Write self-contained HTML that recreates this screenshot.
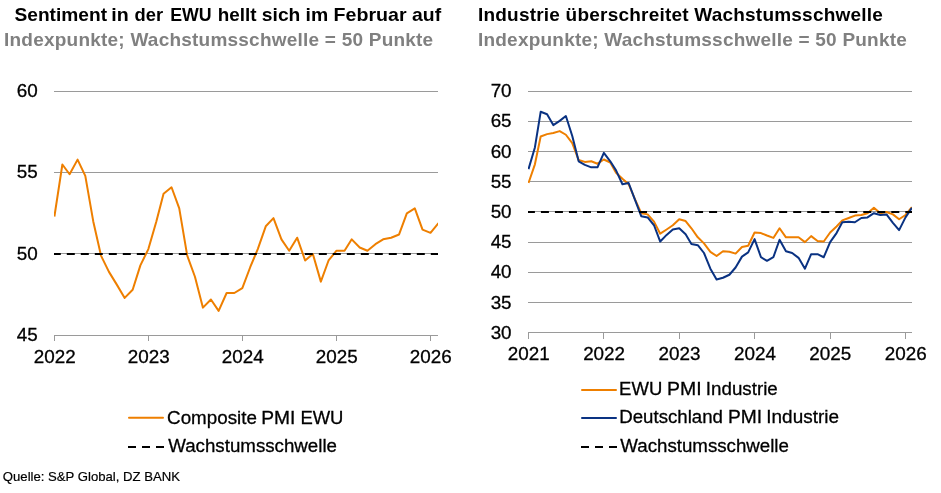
<!DOCTYPE html>
<html lang="de"><head><meta charset="utf-8"><title>PMI</title>
<style>html,body{margin:0;padding:0;background:#fff;overflow:hidden}svg{display:block}text{font-family:"Liberation Sans",sans-serif}</style></head><body>
<svg width="941" height="493" viewBox="0 0 941 493">
<rect width="941" height="493" fill="#fff"/>
<g font-weight="bold" font-size="19">
<text y="21.1" fill="#000"><tspan x="14.50" textLength="92.58" lengthAdjust="spacingAndGlyphs">Sentiment</tspan> <tspan x="111.33" textLength="17.44" lengthAdjust="spacingAndGlyphs">in</tspan> <tspan x="134.49" textLength="28.58" lengthAdjust="spacingAndGlyphs">der</tspan> <tspan x="170.15" textLength="41.42" lengthAdjust="spacingAndGlyphs">EWU</tspan> <tspan x="217.68" textLength="38.79" lengthAdjust="spacingAndGlyphs">hellt</tspan> <tspan x="261.85" textLength="38.56" lengthAdjust="spacingAndGlyphs">sich</tspan> <tspan x="305.54" textLength="22.63" lengthAdjust="spacingAndGlyphs">im</tspan> <tspan x="333.63" textLength="73.02" lengthAdjust="spacingAndGlyphs">Februar</tspan> <tspan x="412.10" textLength="29.05" lengthAdjust="spacingAndGlyphs">auf</tspan></text>
<text x="4.0" y="46.2" textLength="429.2" lengthAdjust="spacing" fill="#808080">Indexpunkte; Wachstumsschwelle = 50 Punkte</text>
<text x="478.0" y="21.1" textLength="404.8" lengthAdjust="spacing" fill="#000">Industrie überschreitet Wachstumsschwelle</text>
<text x="478.0" y="46.2" textLength="428.8" lengthAdjust="spacing" fill="#808080">Indexpunkte; Wachstumsschwelle = 50 Punkte</text>
</g>
<g stroke="#9a9a9a" stroke-width="1" fill="none" shape-rendering="crispEdges">
<line x1="54" x2="438" y1="91.50" y2="91.50"/>
<line x1="54" x2="438" y1="172.50" y2="172.50"/>
<line x1="54" x2="438" y1="253.50" y2="253.50"/>
<line x1="54" x2="438" y1="335.50" y2="335.50"/>
<line x1="54.40" x2="54.40" y1="335.50" y2="341.40"/>
<line x1="148.43" x2="148.43" y1="335.50" y2="341.40"/>
<line x1="242.45" x2="242.45" y1="335.50" y2="341.40"/>
<line x1="336.48" x2="336.48" y1="335.50" y2="341.40"/>
<line x1="430.50" x2="430.50" y1="335.50" y2="341.40"/>
<line x1="528" x2="912" y1="91.50" y2="91.50"/>
<line x1="528" x2="912" y1="121.50" y2="121.50"/>
<line x1="528" x2="912" y1="151.50" y2="151.50"/>
<line x1="528" x2="912" y1="181.50" y2="181.50"/>
<line x1="528" x2="912" y1="211.50" y2="211.50"/>
<line x1="528" x2="912" y1="242.50" y2="242.50"/>
<line x1="528" x2="912" y1="272.50" y2="272.50"/>
<line x1="528" x2="912" y1="302.50" y2="302.50"/>
<line x1="528" x2="912" y1="332.50" y2="332.50"/>
<line x1="528.50" x2="528.50" y1="332.50" y2="338.80"/>
<line x1="603.90" x2="603.90" y1="332.50" y2="338.80"/>
<line x1="679.30" x2="679.30" y1="332.50" y2="338.80"/>
<line x1="754.70" x2="754.70" y1="332.50" y2="338.80"/>
<line x1="830.10" x2="830.10" y1="332.50" y2="338.80"/>
<line x1="905.50" x2="905.50" y1="332.50" y2="338.80"/>
</g>
<g font-size="18.85" fill="#000" stroke="#000" stroke-width="0.3">
<text x="37.7" y="96.90" text-anchor="end">60</text>
<text x="37.7" y="177.90" text-anchor="end">55</text>
<text x="37.7" y="259.90" text-anchor="end">50</text>
<text x="37.7" y="340.90" text-anchor="end">45</text>
<text x="54.70" y="363.4" text-anchor="middle">2022</text>
<text x="148.73" y="363.4" text-anchor="middle">2023</text>
<text x="242.75" y="363.4" text-anchor="middle">2024</text>
<text x="336.78" y="363.4" text-anchor="middle">2025</text>
<text x="430.80" y="363.4" text-anchor="middle">2026</text>
<text x="511.6" y="96.90" text-anchor="end">70</text>
<text x="511.6" y="126.90" text-anchor="end">65</text>
<text x="511.6" y="157.90" text-anchor="end">60</text>
<text x="511.6" y="187.90" text-anchor="end">55</text>
<text x="511.6" y="217.90" text-anchor="end">50</text>
<text x="511.6" y="247.90" text-anchor="end">45</text>
<text x="511.6" y="277.90" text-anchor="end">40</text>
<text x="511.6" y="308.90" text-anchor="end">35</text>
<text x="511.6" y="338.90" text-anchor="end">30</text>
<text x="528.70" y="360.4" text-anchor="middle">2021</text>
<text x="604.10" y="360.4" text-anchor="middle">2022</text>
<text x="679.50" y="360.4" text-anchor="middle">2023</text>
<text x="754.90" y="360.4" text-anchor="middle">2024</text>
<text x="830.30" y="360.4" text-anchor="middle">2025</text>
<text x="905.70" y="360.4" text-anchor="middle">2026</text>
</g>
<defs><clipPath id="cl"><rect x="54" y="80" width="384" height="262"/></clipPath><clipPath id="cr"><rect x="528" y="80" width="384" height="262"/></clipPath></defs>
<g clip-path="url(#cl)">
<polyline fill="none" stroke="#EE7F00" stroke-width="2" stroke-linejoin="round" points="54.40,216.55 62.38,164.50 69.59,174.26 77.57,159.62 85.29,175.89 93.27,221.43 100.99,255.59 108.97,271.86 116.95,284.87 124.68,297.89 132.66,289.75 140.38,265.35 148.36,249.09 156.34,221.43 163.55,193.78 171.53,187.27 179.25,208.42 187.23,255.59 194.95,276.74 202.94,307.65 210.92,299.51 218.64,310.90 226.62,293.01 234.34,293.01 242.32,288.13 250.30,266.98 257.77,249.09 265.75,226.31 273.47,218.18 281.45,239.33 289.17,250.71 297.15,237.70 305.13,260.47 312.86,253.97 320.84,281.62 328.56,260.47 336.54,250.71 344.52,250.71 351.73,239.33 359.71,247.46 367.43,250.71 375.41,244.21 383.13,239.33 391.11,237.70 399.09,234.45 406.82,213.30 414.80,208.42 422.52,229.57 430.50,232.82 438.48,223.06"/>
<line x1="52.8" x2="440" y1="253.97" y2="253.97" stroke="#000" stroke-width="2.1" stroke-dasharray="8 6"/>
</g>
<g clip-path="url(#cr)">
<polyline fill="none" stroke="#EE7F00" stroke-width="2" stroke-linejoin="round" points="528.50,183.01 534.90,164.31 540.68,136.55 547.08,134.14 553.28,132.93 559.68,131.12 565.87,134.74 572.27,143.19 578.67,160.08 584.86,161.89 591.26,161.29 597.46,163.70 603.86,159.48 610.26,162.50 616.04,172.76 622.44,178.79 628.63,184.22 635.03,199.30 641.23,213.18 647.63,214.39 654.03,221.63 660.22,233.70 666.62,229.47 672.82,225.25 679.22,219.22 685.62,221.03 691.40,228.27 697.80,237.32 703.99,243.35 710.39,251.80 716.59,256.02 722.99,251.19 729.39,251.80 735.58,253.61 741.98,246.97 748.18,245.76 754.58,232.49 760.98,233.09 766.96,235.51 773.36,237.92 779.56,228.27 785.96,237.32 792.15,237.32 798.55,237.32 804.95,242.14 811.15,236.11 817.55,240.94 823.74,241.54 830.14,232.49 836.54,226.46 842.32,220.42 848.72,218.01 854.92,215.60 861.32,214.99 867.51,213.18 873.91,207.75 880.31,213.18 886.51,211.97 892.91,214.39 899.10,219.22 905.50,214.99 911.90,207.15"/>
<polyline fill="none" stroke="#0A3282" stroke-width="2" stroke-linejoin="round" points="528.50,169.14 534.90,147.41 540.68,111.81 547.08,114.23 553.28,125.09 559.68,120.87 565.87,116.04 572.27,135.95 578.67,161.29 584.86,164.91 591.26,167.33 597.46,167.33 603.86,152.84 610.26,161.29 616.04,170.34 622.44,184.22 628.63,183.01 635.03,199.91 641.23,216.20 647.63,217.41 654.03,225.25 660.22,241.54 666.62,234.90 672.82,229.47 679.22,228.27 685.62,234.30 691.40,243.95 697.80,245.16 703.99,253.00 710.39,268.69 716.59,279.55 722.99,277.74 729.39,274.73 735.58,267.49 741.98,256.62 748.18,252.40 754.58,239.13 760.98,257.23 766.96,260.85 773.36,257.23 779.56,239.73 785.96,251.19 792.15,253.00 798.55,257.83 804.95,268.69 811.15,254.21 817.55,254.21 823.74,257.23 830.14,242.14 836.54,233.09 842.32,222.23 848.72,221.63 854.92,222.23 861.32,218.01 867.51,217.41 873.91,213.18 880.31,214.99 886.51,214.39 892.91,222.84 899.10,230.08 905.50,217.41 911.90,207.75"/>
<line x1="526.9" x2="914" y1="211.97" y2="211.97" stroke="#000" stroke-width="2.1" stroke-dasharray="8 6.015"/>
</g>
<g stroke-width="2" stroke-linecap="round">
<line x1="129" x2="163" y1="417.8" y2="417.8" stroke="#EE7F00"/>
<line x1="582" x2="616" y1="389.9" y2="389.9" stroke="#EE7F00"/>
<line x1="582" x2="616" y1="418" y2="418" stroke="#0A3282"/>
</g>
<line x1="128" x2="164" y1="447" y2="447" stroke="#000" stroke-width="2.1" stroke-dasharray="8 6"/>
<line x1="581" x2="617" y1="447" y2="447" stroke="#000" stroke-width="2.1" stroke-dasharray="8 6"/>
<g font-size="18.7" fill="#000" stroke="#000" stroke-width="0.3" lengthAdjust="spacing">
<text y="423.6"><tspan x="167.10" textLength="89.79" lengthAdjust="spacingAndGlyphs">Composite</tspan> <tspan x="261.16" textLength="34.13" lengthAdjust="spacingAndGlyphs">PMI</tspan> <tspan x="300.42" textLength="43.04" lengthAdjust="spacingAndGlyphs">EWU</tspan></text>
<text x="168.2" y="452.3" textLength="168.8" lengthAdjust="spacing">Wachstumsschwelle</text>
<text y="395.3"><tspan x="619.12" textLength="43.15" lengthAdjust="spacingAndGlyphs">EWU</tspan> <tspan x="667.04" textLength="34.58" lengthAdjust="spacingAndGlyphs">PMI</tspan> <tspan x="705.85" textLength="71.88" lengthAdjust="spacingAndGlyphs">Industrie</tspan></text>
<text y="423.1"><tspan x="619.31" textLength="103.59" lengthAdjust="spacingAndGlyphs">Deutschland</tspan> <tspan x="727.96" textLength="34.13" lengthAdjust="spacingAndGlyphs">PMI</tspan> <tspan x="766.33" textLength="72.60" lengthAdjust="spacingAndGlyphs">Industrie</tspan></text>
<text x="620.3" y="452.4" textLength="168.6" lengthAdjust="spacing">Wachstumsschwelle</text>
</g>
<text x="2.8" y="480.5" font-size="13.15" fill="#000" stroke="#000" stroke-width="0.2">Quelle: S&amp;P Global, DZ BANK</text>
</svg></body></html>
